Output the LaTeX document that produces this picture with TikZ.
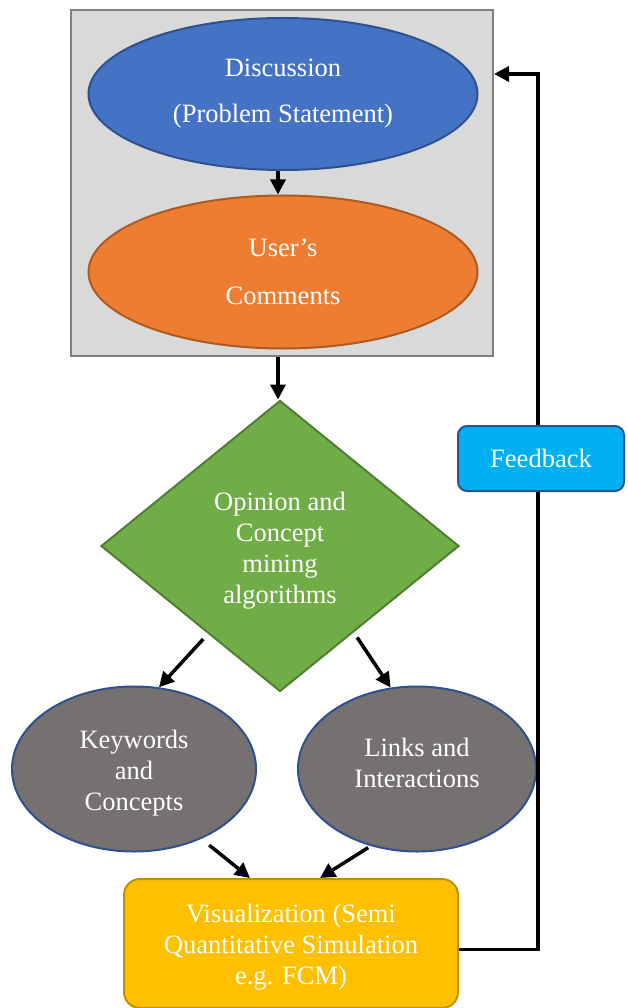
\documentclass[tikz,border=0pt]{standalone}
\usepackage{fontspec}
\setmainfont{Liberation Serif}
\usetikzlibrary{shapes.geometric,arrows.meta,calc}

\definecolor{panelfill}{HTML}{D9D9D9}
\definecolor{panelline}{HTML}{7F7F7F}
\definecolor{discfill}{HTML}{4472C4}
\definecolor{navyline}{HTML}{2F528F}
\definecolor{userfill}{HTML}{ED7D31}
\definecolor{userline}{HTML}{AE5A21}
\definecolor{minefill}{HTML}{70AD47}
\definecolor{mineline}{HTML}{507E32}
\definecolor{conceptfill}{HTML}{767171}
\definecolor{visfill}{HTML}{FFC000}
\definecolor{visline}{HTML}{BF9000}
\definecolor{fbfill}{HTML}{00B0F0}

\begin{document}
\begin{tikzpicture}[x=1pt,y=-1pt,
  every node/.style={font=\fontsize{26.5}{31}\selectfont, text=white, align=center},
  shapeline/.style={line width=2pt},
  oval/.style={ellipse, shapeline, inner sep=0pt},
  flow/.style={line width=3.5pt, -{Triangle[length=15pt,width=15pt]}},
]
\useasboundingbox (0,0) rectangle (628,1008);
\clip (0,0) rectangle (628,1008);

% grey panel holding the discussion stage
\node[draw=panelline, fill=panelfill, shapeline, minimum width=422pt,
      minimum height=346pt, inner sep=0pt] (panel) at (282,183) {};

\node[oval, draw=navyline, fill=discfill, minimum width=389pt, minimum height=152pt]
  (disc) at (283,94) {Discussion\\[15pt](Problem Statement)};
\node[oval, draw=userline, fill=userfill, minimum width=389pt, minimum height=153pt]
  (user) at (283,272) {User’s\\[17pt]Comments};

% mining stage
\node[diamond, draw=mineline, fill=minefill, shapeline, minimum width=358pt,
      minimum height=291pt, inner sep=0pt] (mine) at (280,546) {};
\node (minetext) at ([yshift=-5pt]mine.center) {Opinion and\\Concept\\mining\\algorithms};

% extracted results
\node[oval, draw=navyline, fill=conceptfill, minimum width=244pt, minimum height=165pt]
  (kw) at (134,769) {};
\node (kwtext) at ([yshift=-4pt]kw.center) {Keywords\\and\\Concepts};
\node[oval, draw=navyline, fill=conceptfill, minimum width=238pt, minimum height=165pt]
  (lk) at (417,769) {};
\node (lktext) at ([yshift=6pt]lk.center) {Links and\\Interactions};

% output stage and feedback loop
\node[draw=visline, fill=visfill, shapeline, rounded corners=16pt, minimum width=334pt,
      minimum height=129pt] (vis) at (291,943.5) {};
\node (vistext) at ([yshift=-4pt]vis.center)
  {Visualization (Semi\\Quantitative Simulation\\e.g. FCM)};
\node[draw=navyline, fill=fbfill, shapeline, rounded corners=9pt, minimum width=166pt,
      minimum height=65pt] (fb) at (541,458.5) {};
\node (fbtext) at (fb.center) {Feedback};
\draw[line width=3.5pt] ([yshift=-6pt]vis.east) -| ([xshift=-3pt]fb.south);
\draw[flow] ([xshift=-3pt]fb.north) |- ([yshift=109pt]panel.east);

% flow arrows
\draw[flow] ([xshift=-5pt]disc.south) -- ([xshift=-5pt]user.north);
\draw[flow] ([xshift=-2pt]mine.north |- panel.south) -- ([xshift=-2pt]mine.north);
\draw[flow, shorten <=7pt] ($(mine.west)!0.6!(mine.south)$) -- (kw.73);
\draw[flow, shorten <=6pt] ($(mine.south)!0.41!(mine.east)$) -- (lk.108);
\draw[flow, shorten <=10pt] (kw.-46) -- ([xshift=-41pt]vis.north);
\draw[flow, shorten <=3pt] (lk.-121) -- ([xshift=29pt]vis.north);
\end{tikzpicture}
\end{document}
